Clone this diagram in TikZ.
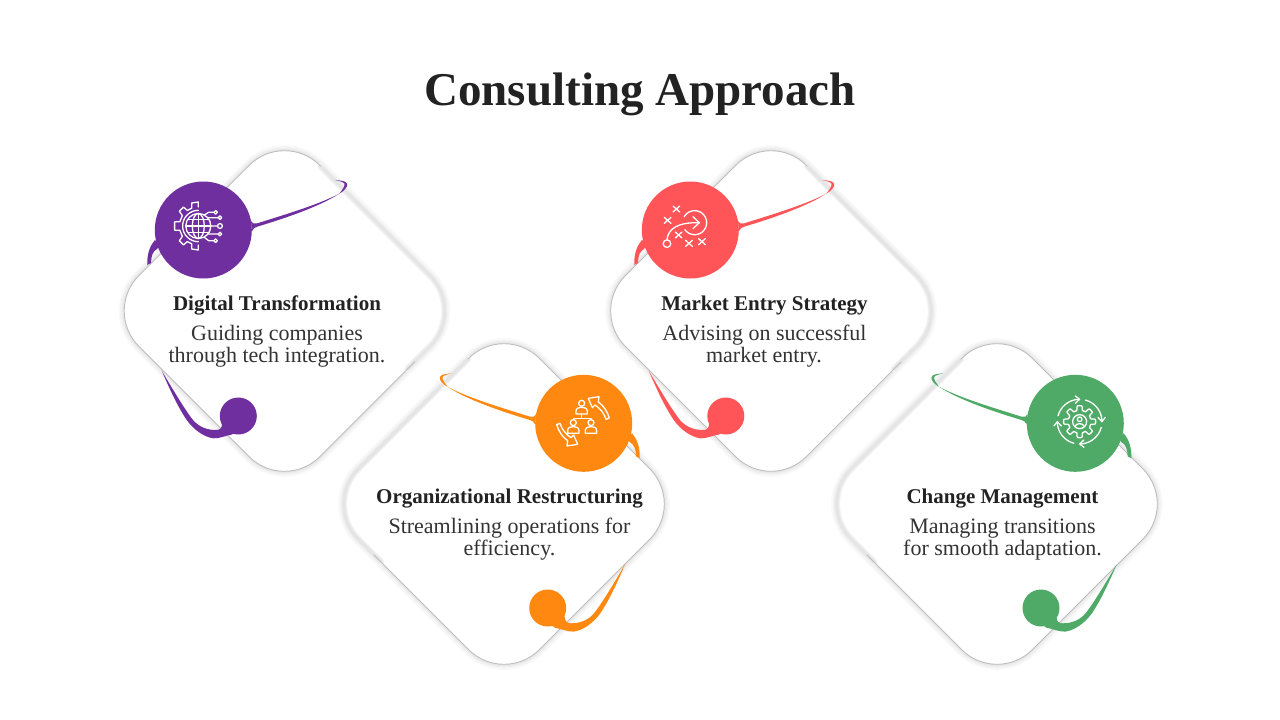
\documentclass[tikz,border=0pt]{standalone}
\usepackage{fontspec}
\usetikzlibrary{calc}
\setmainfont{Liberation Serif}
\definecolor{cpurple}{HTML}{6F2F9F}
\definecolor{corange}{HTML}{FF8811}
\definecolor{cred}{HTML}{FF5558}
\definecolor{cgreen}{HTML}{4EAA66}
\definecolor{ink}{HTML}{222222}
\definecolor{bodyink}{HTML}{333333}
\definecolor{edgeline}{HTML}{BEBEBE}
\tikzset{
  card/.style={rectangle,rotate=45,minimum width=256pt,minimum height=256pt,rounded corners=50pt,fill=white,outer sep=0pt,
    preaction={draw=black!2,line width=11pt},
    preaction={draw=black!4,line width=8.5pt},
    preaction={draw=black!6,line width=6pt},
    preaction={draw=black!9,line width=3.5pt}},
  softa/.style={rounded corners=50pt,draw=black!4,line width=7pt,line cap=round},
  softb/.style={rounded corners=50pt,draw=black!7,line width=5pt,line cap=round},
  softc/.style={rounded corners=50pt,draw=black!10,line width=3pt,line cap=round},
  thinedge/.style={rounded corners=50pt,draw=edgeline,line width=.9pt},
  titletext/.style={font=\fontsize{47}{47}\selectfont\bfseries,text=ink,anchor=base,inner sep=0pt},
  headtext/.style={font=\fontsize{21}{22}\selectfont\bfseries,text=ink,anchor=base,inner sep=0pt},
  bodytext/.style={font=\fontsize{22}{22}\selectfont,text=bodyink,anchor=base,inner sep=0pt},
  bigdot/.style={circle,minimum size=97pt,inner sep=0pt},
  smalldot/.style={circle,minimum size=37pt,inner sep=0pt},
  ic/.style={draw=white,line width=1.3pt,line join=round,line cap=round},
}
\newcommand{\softleft}[1]{% soft band on the upper-right side, thin line elsewhere
  \path (#1.north east) coordinate (ne) (#1.north west) coordinate (nw) (#1.south west) coordinate (sw) (#1.south east) coordinate (se);
  \foreach \st in {softa,softb,softc}{
    \draw[\st] ($(ne)!.2!(se)$) -- (se) -- ($(se)!.32!(sw)$);}
  \draw[thinedge] ($(ne)!.2!(se)$) -- (ne) -- (nw) -- (sw) -- ($(sw)!.72!(se)$);
}
\newcommand{\softright}[1]{% soft band on the upper-left side, thin line elsewhere
  \path (#1.north east) coordinate (ne) (#1.north west) coordinate (nw) (#1.south west) coordinate (sw) (#1.south east) coordinate (se);
  \foreach \st in {softa,softb,softc}{
    \draw[\st] ($(ne)!.2!(nw)$) -- (nw) -- ($(nw)!.32!(sw)$);}
  \draw[thinedge] ($(ne)!.2!(nw)$) -- (ne) -- (se) -- (sw) -- ($(sw)!.72!(nw)$);
}
\newcommand{\tails}[1]{%
  \fill[#1] (147.3,-265) .. controls (147,-255) and (149,-247) .. (155,-240)
     -- (160,-245) -- (157,-249) .. controls (153,-251) and (151,-256) .. (151,-263) -- cycle;
  \fill[#1] (251,-221) .. controls (252,-223.5) and (254,-224) .. (257,-223.4)
     .. controls (280,-216) and (322,-204) .. (342,-192)
     .. controls (347,-188) and (349,-184) .. (345.5,-182)
     .. controls (343,-180.5) and (339,-180.5) .. (335,-180)
     .. controls (339,-181) and (343,-181.8) .. (344.3,-183.5)
     .. controls (345.5,-186) and (342,-190) .. (339.5,-193.5)
     .. controls (320,-206.5) and (283,-219) .. (258,-226.4)
     .. controls (255,-227.5) and (253,-228) .. (252,-231) -- cycle;
  \fill[#1] (161.7,-370.7) .. controls (168,-385) and (176,-404) .. (186.7,-420)
     .. controls (194,-430) and (204,-437) .. (213.3,-438.3)
     .. controls (220,-438.5) and (224,-436) .. (232,-434.5)
     -- (238,-430) -- (226,-418) -- (222,-424) .. controls (222,-428) and (220,-430) .. (216,-430)
     .. controls (207,-430) and (199,-427) .. (193,-420)
     .. controls (185,-410) and (172,-388) .. (161.7,-370.7) -- cycle;
}
\newcommand{\icondigital}{%
  \draw[ic] (145,96)--(145,81)--(125,84)--(125.5,99.4)--(112.3,106.3)--(100.7,96.3)--(88.3,108.7)--(97.2,122)--(89.5,140.2)--(74,140.5)--(74,165.5)--(89.5,165.8)--(97.2,184)--(88.3,197.3)--(100.7,209.7)--(112.3,199.7)--(125.5,206.6)--(125,222)--(145,225)--(145,210);
  \draw[ic] plot[domain=90:270,samples=30] ({145+47*cos(\x)},{153-47*sin(\x)});
  \draw[ic] (145,153) circle[radius=12.5pt];
  \draw[ic] (145,153) ellipse[x radius=6pt,y radius=12.5pt];
  \draw[ic] (145,115.5)--(145,190.5) (108,153)--(182,153) (113,134)--(177,134) (113,172)--(177,172);
  \foreach \px/\py in {197/112,210/128,210/177,197/197}{\draw[ic] (\px,\py) circle[radius=1.8pt];}
  \draw[ic] (210,153) circle[radius=2.4pt];
  \draw[ic] (163,120)--(176,112)--(191,112) (175,128)--(204,128) (182,153)--(203,153) (175,177)--(204,177) (163,187)--(176,197)--(191,197);
}
\newcommand{\arrowband}{%
  \draw[ic] (195,105) .. controls (210,115) and (223,130) .. (228,148) -- (238,144)
     .. controls (232,124) and (220,106) .. (205,96) -- (207,80) -- (175,85) -- (187,113) -- cycle;
}
\newcommand{\iconorg}{%
  \arrowband
  \begin{scope}[rotate around={180:(159,154)}]\arrowband\end{scope}
  \foreach \hx/\hy in {155/100,130/158,183/158}{
    \draw[ic] (\hx,\hy) circle[radius=3pt];
    \draw[ic] (\hx-17,\hy+32) -- (\hx-17,\hy+24) .. controls (\hx-17,\hy+14) and (\hx-8,\hy+12) .. (\hx,\hy+12)
       .. controls (\hx+8,\hy+12) and (\hx+17,\hy+14) .. (\hx+17,\hy+24) -- (\hx+17,\hy+32) -- cycle;
  }
  \draw[ic] (155,132)--(155,145) (130,149)--(130,145)--(183,145)--(183,149);
}
\newcommand{\iconplay}{%
  \foreach \qx/\qy in {120/102,94/136,127/180,158/205,197/200}{
    \draw[ic] (\qx-10,\qy-9)--(\qx+10,\qy+9) (\qx-10,\qy+9)--(\qx+10,\qy-9);}
  \draw[ic] (92,206) circle[radius=3.8pt];
  \draw[ic] (92,194) .. controls (96,160) and (125,142) .. (188,143);
  \draw[ic] (170,125)--(189,143)--(170,161);
  \draw[ic] plot[domain=-150:145,samples=40] ({175+36*cos(\x)},{143+36*sin(\x)});
}
\newcommand{\iconchange}{%
  \draw[ic] plot[domain=0:360,samples=145] ({173+(41+7*max(-1,min(1,3*cos(8*\x))))*cos(\x)},{155+(41+7*max(-1,min(1,3*cos(8*\x))))*sin(\x)});
  \draw[ic] (173,155) circle[radius=7pt];
  \draw[ic] (173,148) circle[radius=2.3pt];
  \draw[ic] (159,170) .. controls (161,158) and (185,158) .. (187,170);
  \foreach \r in {0,90,180,270}{
    \begin{scope}[rotate around={\r:(173,155)}]
      \draw[ic] plot[domain=-165:-92,samples=20] ({173+67*cos(\x)},{155+67*sin(\x)});
      \draw[ic] (160,78)--(173,88)--(160,100);
    \end{scope}}
}
\newcommand{\iconat}[4]{%
  \begin{scope}[shift={(#1,-#2)}]\begin{scope}[x=.3333pt,y=-.3333pt,shift={(-#3,-#4)}]}
\begin{document}
\begin{tikzpicture}[x=1pt,y=1pt]
\useasboundingbox (0,0) rectangle (1280,-720);
\fill[white] (0,0) rectangle (1280,-720);
\node[titletext] (title) at (640,-105) {Consulting Approach};
% cards
\node[card] (card1) at (284.5,-311) {};
\node[card] (card2) at (504,-504) {};
\node[card] (card3) at (771,-311) {};
\node[card] (card4) at (997,-504) {};
\softleft{card1}
\softleft{card3}
\softright{card2}
\softright{card4}
% tails
\begin{scope}\tails{cpurple}\end{scope}
\begin{scope}[xshift=487pt]\tails{cred}\end{scope}
\begin{scope}[xscale=-1,xshift=-787pt,yshift=-193.3pt]\tails{corange}\end{scope}
\begin{scope}[xscale=-1,xshift=-1278.6pt,yshift=-193.3pt]\tails{cgreen}\end{scope}
% dots
\node[bigdot,fill=cpurple] (d1) at (203.3,-230) {};
\node[bigdot,fill=cred] (d3) at (690.3,-230) {};
\node[bigdot,fill=corange] (d2) at (583.7,-423.3) {};
\node[bigdot,fill=cgreen] (d4) at (1075.3,-423.3) {};
\node[smalldot,fill=cpurple] (b1) at (238.3,-416) {};
\node[smalldot,fill=cred] (b3) at (725.8,-416) {};
\node[smalldot,fill=corange] (b2) at (547.7,-608) {};
\node[smalldot,fill=cgreen] (b4) at (1041,-608) {};
% icons
\iconat{203.3}{230}{160}{165}\icondigital\end{scope}\end{scope}
\iconat{583.3}{423.3}{160}{160}\iconorg\end{scope}\end{scope}
\iconat{690.3}{230}{162}{165}\iconplay\end{scope}\end{scope}
\iconat{1075.3}{423.3}{160}{160}\iconchange\end{scope}\end{scope}
% text
\node[headtext] (h1) at (277,-310) {Digital Transformation};
\node[bodytext] (t1a) at (277,-340) {Guiding companies};
\node[bodytext] (t1b) at (277,-362) {through tech integration.};
\node[headtext] (h2) at (509.5,-503) {Organizational Restructuring};
\node[bodytext] (t2a) at (509.5,-533) {Streamlining operations for};
\node[bodytext] (t2b) at (509.5,-555) {efficiency.};
\node[headtext] (h3) at (764.5,-310) {Market Entry Strategy};
\node[bodytext] (t3a) at (764.5,-340) {Advising on successful};
\node[bodytext] (t3b) at (764,-362) {market entry.};
\node[headtext] (h4) at (1002.5,-503) {Change Management};
\node[bodytext] (t4a) at (1002.5,-533) {Managing transitions};
\node[bodytext] (t4b) at (1002.5,-555) {for smooth adaptation.};
\end{tikzpicture}
\end{document}
